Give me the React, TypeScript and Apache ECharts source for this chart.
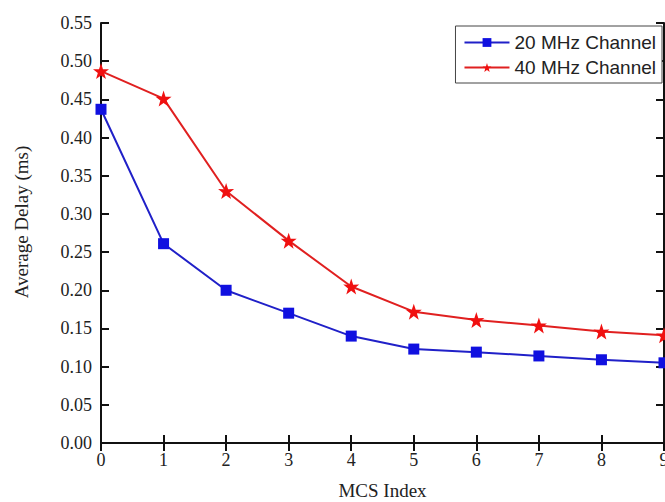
import React, { useEffect, useRef } from "react";
import * as echarts from "echarts";

const mcsIndex = ["0", "1", "2", "3", "4", "5", "6", "7", "8", "9"];
const delay20 = [0.437, 0.261, 0.2, 0.17, 0.14, 0.123, 0.119, 0.114, 0.109, 0.105];
const delay40 = [0.487, 0.451, 0.33, 0.265, 0.205, 0.172, 0.161, 0.154, 0.146, 0.141];
const yTicks = { min: 0, max: 0.55, interval: 0.05 };
const xTitle = "MCS Index";
const yTitle = "Average Delay (ms)";

const serif = "'Liberation Serif', 'DejaVu Serif', serif";
const sans = "'Liberation Sans', Arial, sans-serif";

export default function App() {
  const ref = useRef<HTMLDivElement>(null);
  useEffect(() => {
    if (!ref.current) return;
    const chart = echarts.init(ref.current, undefined, { renderer: "svg" });
    const axisLine = { show: true, lineStyle: { color: "#111", width: 2 } };
    const tick = { show: true, inside: true, length: 8, lineStyle: { color: "#111", width: 2 } };
    chart.setOption({
      animation: false,
      backgroundColor: "#fff",
      grid: { left: 101, top: 23, right: 1, bottom: 59, containLabel: false, outerBoundsMode: "none" },
      legend: {
        right: 3,
        top: 26,
        orient: "vertical",
        itemGap: 6,
        itemWidth: 45,
        itemHeight: 11,
        padding: [7, 6, 6, 8],
        borderColor: "#444",
        borderWidth: 1,
        backgroundColor: "#fff",
        textStyle: { fontFamily: sans, fontSize: 19, color: "#222" },
        data: ["20 MHz Channel", "40 MHz Channel"],
      },
      graphic: [
        {
          type: "text",
          x: 21,
          y: 222,
          rotation: Math.PI / 2,
          style: {
            text: yTitle,
            fontFamily: serif,
            fontSize: 19,
            fill: "#222",
            align: "center",
            verticalAlign: "middle",
          },
        },
      ],
      xAxis: [
        {
          type: "category",
          data: mcsIndex,
          boundaryGap: false,
          name: xTitle,
          nameLocation: "middle",
          nameGap: 38,
          nameTextStyle: { fontFamily: serif, fontSize: 19, color: "#222" },
          axisLine,
          axisTick: tick,
          axisLabel: { fontFamily: serif, fontSize: 18, color: "#222", margin: 8 },
          splitLine: { show: false },
        },
        {
          type: "category",
          data: mcsIndex,
          boundaryGap: false,
          position: "top",
          axisLine,
          axisTick: tick,
          axisLabel: { show: false },
          splitLine: { show: false },
        },
      ],
      yAxis: [
        {
          type: "value",
          min: yTicks.min,
          max: yTicks.max,
          interval: yTicks.interval,
          axisLine,
          axisTick: tick,
          axisLabel: {
            fontFamily: serif,
            fontSize: 18,
            color: "#222",
            margin: 9,
            formatter: (v: number) => v.toFixed(2),
          },
          splitLine: { show: false },
        },
        {
          type: "value",
          min: yTicks.min,
          max: yTicks.max,
          interval: yTicks.interval,
          position: "right",
          axisLine,
          axisTick: tick,
          axisLabel: { show: false },
          splitLine: { show: false },
        },
      ],
      series: [
        {
          name: "20 MHz Channel",
          type: "line",
          data: delay20,
          symbol: "rect",
          symbolSize: 11,
          itemStyle: { color: "#1010e0" },
          lineStyle: { color: "#2020c8", width: 2 },
        },
        {
          name: "40 MHz Channel",
          type: "line",
          data: delay40,
          symbol: "path://M50,0 L61.8,35.3 L97.6,34.5 L69,56.7 L79.4,91 L50,70.5 L20.6,91 L31,56.7 L2.4,34.5 L38.2,35.3 Z",
          symbolSize: 16,
          itemStyle: { color: "#f01010" },
          lineStyle: { color: "#e02020", width: 2 },
        },
      ],
    });
    return () => chart.dispose();
  }, []);
  return (
    <div
      ref={ref}
      style={{ position: "fixed", left: 0, top: 0, width: 665, height: 502 }}
    />
  );
}
